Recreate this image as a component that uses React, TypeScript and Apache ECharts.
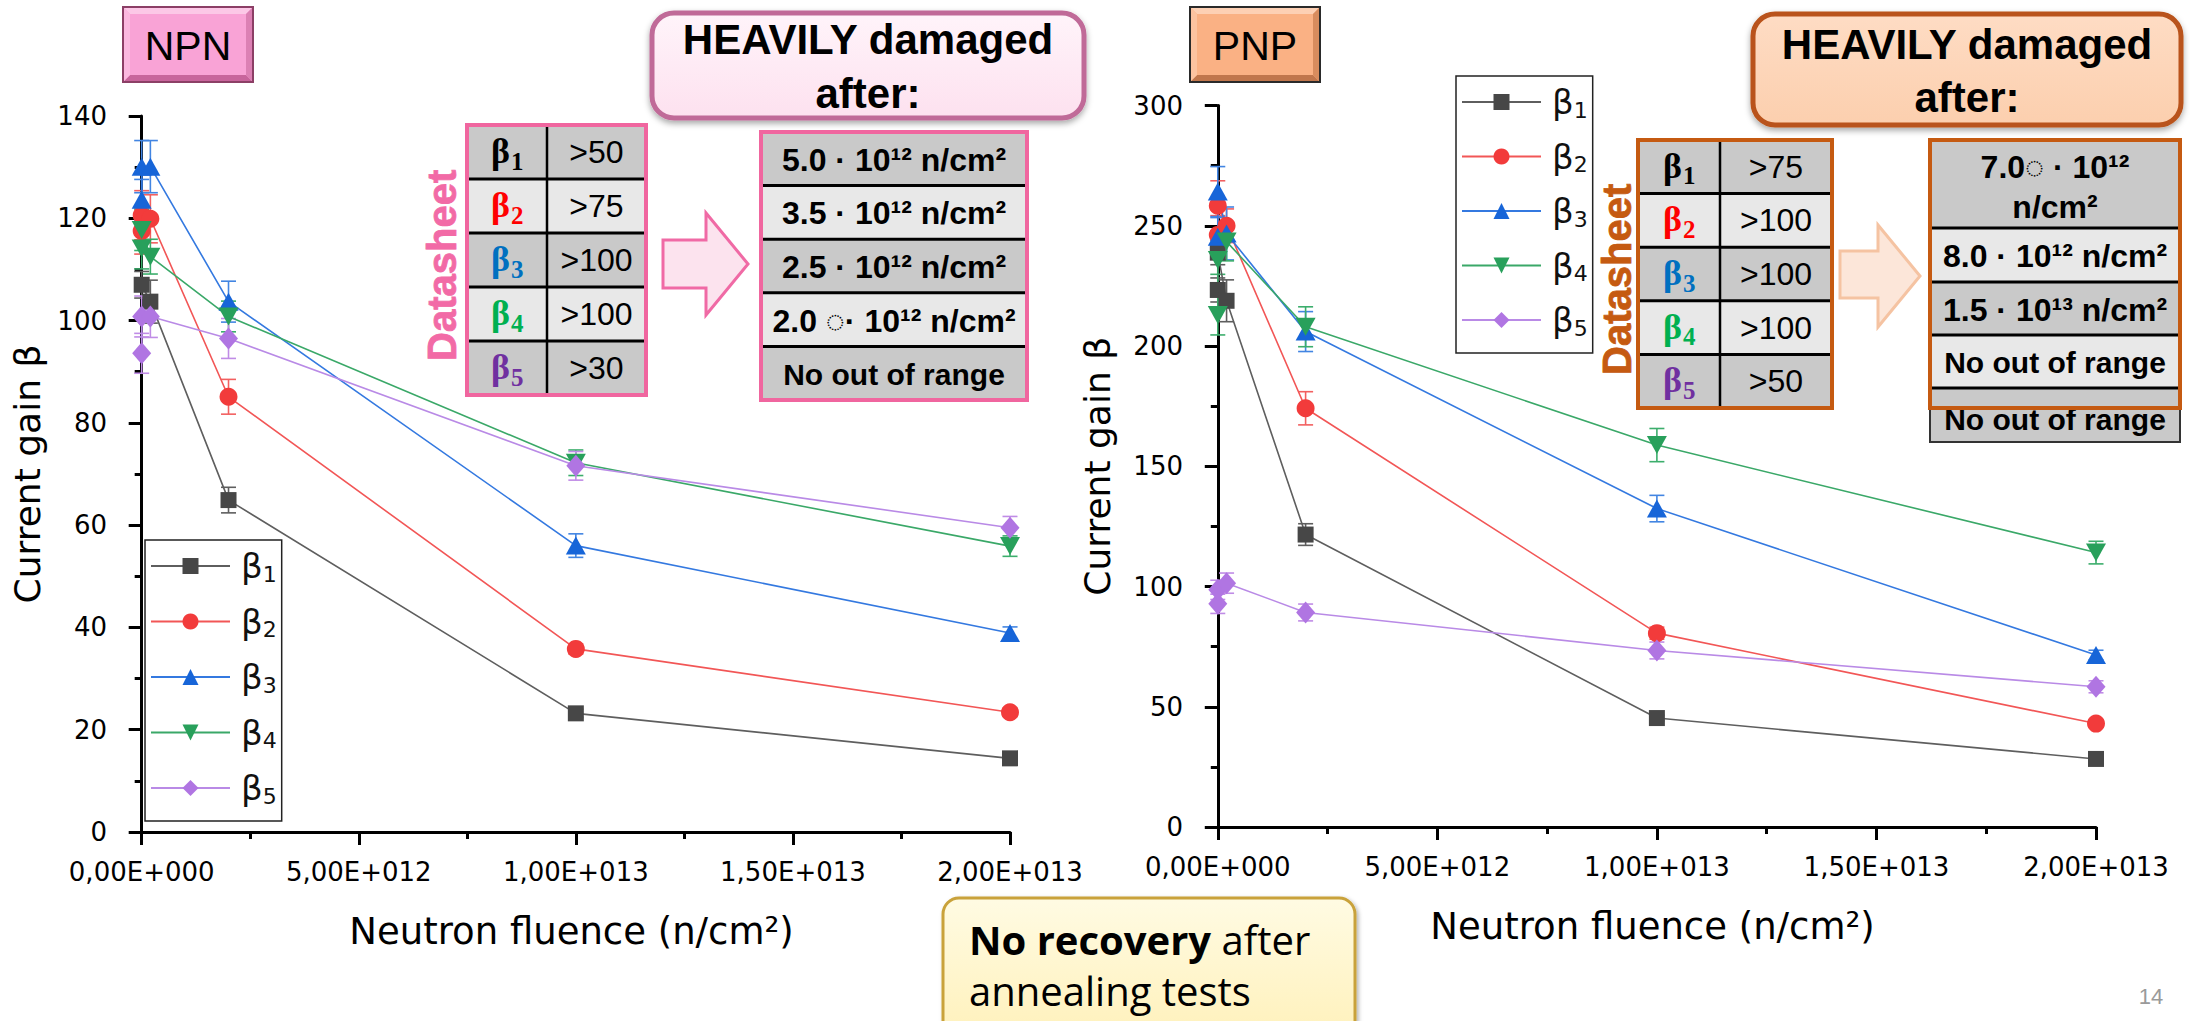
import { useEffect, useRef } from 'react';
import * as echarts from 'echarts';

// Each point: [neutron fluence (n/cm²), current gain β, error bar half-height]
type Pt = [number, number, number];

// NPN transistor, gains beta1..beta5
const npnB1: Pt[] = [[0, 107.0, 2.6], [2e11, 103.7, 4.2], [2e12, 64.9, 2.5], [1e13, 23.2, 0.8], [2e13, 14.4, 0.6]];
const npnB2: Pt[] = [[0, 117.5, 4.5], [0, 120.6, 4.8], [2e11, 119.9, 4.7], [2e12, 85.1, 3.4], [1e13, 35.8, 1.0], [2e13, 23.4, 0.8]];
const npnB3: Pt[] = [[0, 123.6, 4.0], [0, 130.1, 5.1], [2e11, 130.1, 5.1], [2e12, 103.7, 4.0], [1e13, 56.0, 2.3], [2e13, 38.9, 1.2]];
const npnB4: Pt[] = [[0, 114.1, 4.0], [0, 117.7, 4.0], [2e11, 112.5, 3.4], [2e12, 100.8, 3.0], [1e13, 72.2, 2.5], [2e13, 55.9, 2.0]];
const npnB5: Pt[] = [[0, 93.6, 3.9], [0, 100.8, 4.0], [2e11, 100.8, 4.1], [2e12, 96.5, 3.9], [1e13, 71.6, 2.8], [2e13, 59.5, 2.2]];

// PNP transistor, gains beta1..beta5
const pnpB1: Pt[] = [[0, 223.3, 5.0], [0, 238.8, 5.0], [2e11, 218.8, 8.7], [2e12, 121.6, 4.5], [1e13, 45.3, 1.2], [2e13, 28.3, 1.0]];
const pnpB2: Pt[] = [[0, 246.2, 8.0], [0, 258.3, 10.4], [2e11, 250.0, 7.0], [2e12, 174.1, 6.9], [1e13, 80.6, 2.5], [2e13, 43.0, 1.2]];
const pnpB3: Pt[] = [[0, 245.4, 8.0], [0, 264.2, 10.4], [2e11, 246.8, 11.0], [2e12, 206.0, 8.3], [1e13, 132.4, 5.5], [2e13, 71.5, 2.0]];
const pnpB4: Pt[] = [[0, 212.9, 8.3], [0, 235.8, 6.0], [2e11, 243.4, 8.0], [2e12, 208.0, 8.3], [1e13, 158.8, 6.9], [2e13, 114.1, 4.7]];
const pnpB5: Pt[] = [[0, 92.8, 4.0], [0, 98.6, 4.0], [2e11, 101.4, 4.2], [2e12, 89.2, 3.5], [1e13, 73.4, 3.5], [2e13, 58.3, 2.5]];

const seriesNames = ['β1', 'β2', 'β3', 'β4', 'β5'];
const majorFluence = [0, 5e12, 1e13, 1.5e13, 2e13];
const minorFluence = [2.5e12, 7.5e12, 1.25e13, 1.75e13];

// Datasheet minimum gains and fluence at which each gain falls out of range
const npnDatasheet = ['>50', '>75', '>100', '>100', '>30'];
const pnpDatasheet = ['>75', '>100', '>100', '>100', '>50'];
const npnDamage = ['5.0 · 10¹² n/cm²', '3.5 · 10¹² n/cm²', '2.5 · 10¹² n/cm²', '2.0 ◌· 10¹² n/cm²', 'No out of range'];
const pnpDamage = ['8.0 · 10¹² n/cm²', '1.5 · 10¹³ n/cm²', 'No out of range', 'No out of range'];

const CHART_FONT = '"DejaVu Sans", sans-serif';
const SLIDE_FONT = '"Liberation Sans", Arial, sans-serif';

const styles = [
  { symbol: 'rect', size: 16 as number | number[], marker: '#474747', line: '#5e5e5e', err: '#5e5e5e' },
  { symbol: 'circle', size: 18, marker: '#f23b3b', line: '#f25656', err: '#f26060' },
  { symbol: 'triangle', size: [20, 18], marker: '#1765d8', line: '#3479e0', err: '#4285e2' },
  { symbol: 'path://M0,0L2,0L1,2Z', size: [20, 18], marker: '#28a05b', line: '#3aa868', err: '#3cae6c' },
  { symbol: 'diamond', size: [19, 22], marker: '#b075e2', line: '#b98ae6', err: '#c08ce6' },
];
const betaColors = ['#000000', '#ff0000', '#0070c0', '#00b050', '#7030a0'];

const sci = (v: number): string => {
  if (v === 0) return '0,00E+000';
  const e = Math.floor(Math.log10(v) + 1e-9);
  const m = v / Math.pow(10, e);
  return m.toFixed(2).replace('.', ',') + 'E+' + String(e).padStart(3, '0');
};

function lineSeries(pts: Pt[], i: number, xi: number, yi: number) {
  const s = styles[i];
  return {
    type: 'line', name: seriesNames[i], xAxisIndex: xi, yAxisIndex: yi,
    data: pts.map((p) => [p[0], p[1]]),
    symbol: s.symbol, symbolSize: s.size, showAllSymbol: true,
    itemStyle: { color: s.marker }, lineStyle: { color: s.line, width: 1.6 },
    z: 3, clip: false,
  };
}

function errorSeries(pts: Pt[], i: number, xi: number, yi: number) {
  const color = styles[i].err;
  return {
    type: 'custom', xAxisIndex: xi, yAxisIndex: yi, silent: true, z: 2, clip: false,
    encode: { x: 0, y: [1, 2] },
    data: pts.map((p) => [p[0], p[1] - p[2], p[1] + p[2]]),
    renderItem: (_params: unknown, api: any) => {
      const x = api.value(0);
      const lo = api.coord([x, api.value(1)]);
      const hi = api.coord([x, api.value(2)]);
      const c = 7.5;
      const st = { stroke: color, lineWidth: 1.6 };
      return {
        type: 'group',
        children: [
          { type: 'line', shape: { x1: lo[0], y1: lo[1], x2: hi[0], y2: hi[1] }, style: st },
          { type: 'line', shape: { x1: hi[0] - c, y1: hi[1], x2: hi[0] + c, y2: hi[1] }, style: st },
          { type: 'line', shape: { x1: lo[0] - c, y1: lo[1], x2: lo[0] + c, y2: lo[1] }, style: st },
        ],
      };
    },
  };
}

function xAxes(gridIndex: number) {
  return [
    {
      type: 'value', gridIndex, min: -2e11, max: 2e13, position: 'bottom',
      axisLine: { show: true, onZero: false, lineStyle: { color: '#000', width: 3 } },
      axisTick: { show: true, customValues: majorFluence, length: 13, lineStyle: { color: '#000', width: 3 } },
      axisLabel: { show: true, customValues: majorFluence, formatter: sci, margin: 27, color: '#000', fontSize: 26, fontFamily: CHART_FONT },
      splitLine: { show: false },
      name: 'Neutron fluence (n/cm²)', nameLocation: 'middle', nameGap: 81,
      nameTextStyle: { fontSize: 37, fontFamily: CHART_FONT, color: '#000' },
    },
    {
      type: 'value', gridIndex, min: -2e11, max: 2e13, position: 'bottom',
      axisLine: { show: false },
      axisTick: { show: true, customValues: minorFluence, length: 7, lineStyle: { color: '#000', width: 3 } },
      axisLabel: { show: false }, splitLine: { show: false },
    },
  ];
}

function yAxis(gridIndex: number, max: number, step: number, gap: number) {
  return {
    type: 'value', gridIndex, min: 0, max, interval: step,
    axisLine: { show: true, lineStyle: { color: '#000', width: 3 } },
    axisTick: { show: true, length: 13, lineStyle: { color: '#000', width: 3 } },
    minorTick: { show: true, splitNumber: 2, length: 7, lineStyle: { color: '#000', width: 3 } },
    axisLabel: { margin: 26, fontSize: 26, fontFamily: CHART_FONT, color: '#000' },
    splitLine: { show: false },
    name: 'Current gain β', nameLocation: 'middle', nameGap: gap, nameRotate: 90,
    nameTextStyle: { fontSize: 36, fontFamily: CHART_FONT, color: '#000' },
  };
}

function legend(left: number, top: number, gap: number) {
  return {
    data: seriesNames, orient: 'vertical', left, top,
    itemWidth: 79, itemHeight: 20, itemGap: gap,
    padding: [9, 5, 14, 5],
    borderColor: '#222', borderWidth: 1.5, backgroundColor: '#fff',
    formatter: (n: string) => `{b|β}{s|${n.slice(1)}}`,
    textStyle: {
      color: '#111', fontFamily: CHART_FONT, fontSize: 34,
      rich: {
        b: { fontSize: 34, lineHeight: 38, fontFamily: CHART_FONT, padding: [0, 0, 0, 6] },
        s: { fontSize: 22, lineHeight: 22, fontFamily: CHART_FONT, verticalAlign: 'bottom' },
      },
    },
  };
}

// ---------- slide decorations ----------
const rect = (x: number, y: number, w: number, h: number, style: object, r = 0) =>
  ({ type: 'rect', shape: { x, y, width: w, height: h, r }, style });
const line = (x1: number, y1: number, x2: number, y2: number, stroke: string, lineWidth: number) =>
  ({ type: 'line', shape: { x1, y1, x2, y2 }, style: { stroke, lineWidth } });
const poly = (points: number[][], style: object) => ({ type: 'polygon', shape: { points }, style });
const text = (x: number, y: number, t: string, font: string, fill: string, extra: object = {}, rotation = 0) => ({
  type: 'text', x, y, rotation,
  style: { text: t, font, fill, align: 'center', verticalAlign: 'middle', textAlign: 'center', textVerticalAlign: 'middle', ...extra },
});

function bevelBox(x: number, y: number, w: number, h: number, b: number, c: { mid: string; top: string; left: string; bottom: string; right: string; border: string }) {
  return [
    rect(x, y, w, h, { fill: c.mid }),
    poly([[x, y], [x + w, y], [x + w - b, y + b], [x + b, y + b]], { fill: c.top }),
    poly([[x, y + h], [x + w, y + h], [x + w - b, y + h - b], [x + b, y + h - b]], { fill: c.bottom }),
    poly([[x, y], [x + b, y + b], [x + b, y + h - b], [x, y + h]], { fill: c.left }),
    poly([[x + w, y], [x + w - b, y + b], [x + w - b, y + h - b], [x + w, y + h]], { fill: c.right }),
    rect(x, y, w, h, { fill: 'none', stroke: c.border, lineWidth: 2 }),
  ];
}

function datasheetTable(x0: number, y0: number, w: number, colX: number, rowH: number, border: string, values: string[], labelX: number, labelColor: string) {
  const els: object[] = [];
  for (let i = 0; i < 5; i++) els.push(rect(x0, y0 + i * rowH, w, rowH, { fill: i % 2 ? '#e8e8e8' : '#c9c9c9' }));
  for (let i = 1; i < 5; i++) els.push(line(x0, y0 + i * rowH, x0 + w, y0 + i * rowH, '#000', 3));
  els.push(line(colX, y0, colX, y0 + 5 * rowH, '#000', 2.5));
  const c1 = (x0 + colX) / 2;
  const c2 = (colX + x0 + w) / 2;
  for (let i = 0; i < 5; i++) {
    const cy = y0 + i * rowH + rowH / 2;
    els.push(text(c1 + 3, cy - 1, 'β', 'bold 36px "Liberation Serif", serif', betaColors[i], { align: 'right', textAlign: 'right' }));
    els.push(text(c1 + 4, cy + 9, String(i + 1), 'bold 25px "Liberation Serif", serif', betaColors[i], { align: 'left', textAlign: 'left' }));
    els.push(text(c2, cy, values[i], '32px ' + SLIDE_FONT, '#000'));
  }
  els.push(rect(x0, y0, w, 5 * rowH, { fill: 'none', stroke: border, lineWidth: 4 }));
  els.push(text(labelX, y0 + 2.6 * rowH, 'Datasheet', 'bold 40px ' + SLIDE_FONT, labelColor, { stroke: labelColor, lineWidth: 0.8 }, Math.PI / 2));
  return els;
}

function arrow(x0: number, sy0: number, sy1: number, hx: number, hy0: number, hy1: number, tip: number, fill: string, stroke: string) {
  const ty = (hy0 + hy1) / 2;
  return poly([[x0, sy0], [hx, sy0], [hx, hy0], [tip, ty], [hx, hy1], [hx, sy1], [x0, sy1]], { fill, stroke, lineWidth: 3 });
}

function buildGraphic() {
  const g: object[] = [];
  // Device type badges
  g.push(...bevelBox(123, 7, 130, 75, 7, { mid: '#f9a3d6', top: '#fcc8e7', left: '#fbb8df', bottom: '#c8659c', right: '#dc80b4', border: '#8c3f66' }));
  g.push(text(188, 46, 'NPN', '41px ' + SLIDE_FONT, '#000'));
  g.push(...bevelBox(1190, 7, 130, 75, 7, { mid: '#fab184', top: '#fdd0b4', left: '#fcc3a0', bottom: '#c0764c', right: '#d88c5e', border: '#2a2a2a' }));
  g.push(text(1255, 46, 'PNP', '41px ' + SLIDE_FONT, '#000'));

  // "HEAVILY damaged after:" headers
  g.push(rect(652, 13, 432, 105, {
    fill: new echarts.graphic.LinearGradient(0, 0, 0, 1, [{ offset: 0, color: '#fff4fa' }, { offset: 1, color: '#fde1ef' }]),
    stroke: '#c06a98', lineWidth: 5, shadowBlur: 6, shadowOffsetY: 3, shadowColor: 'rgba(0,0,0,0.35)',
  }, 22));
  g.push(text(868, 39, 'HEAVILY damaged', 'bold 42px ' + SLIDE_FONT, '#000'));
  g.push(text(868, 93, 'after:', 'bold 42px ' + SLIDE_FONT, '#000'));
  g.push(rect(1753, 14, 428, 111, {
    fill: new echarts.graphic.LinearGradient(0, 0, 0, 1, [{ offset: 0, color: '#fedcc4' }, { offset: 1, color: '#fccfae' }]),
    stroke: '#b9531a', lineWidth: 5, shadowBlur: 6, shadowOffsetY: 3, shadowColor: 'rgba(0,0,0,0.35)',
  }, 22));
  g.push(text(1967, 44, 'HEAVILY damaged', 'bold 42px ' + SLIDE_FONT, '#000'));
  g.push(text(1967, 97, 'after:', 'bold 42px ' + SLIDE_FONT, '#000'));

  // Datasheet tables
  g.push(...datasheetTable(467, 125, 179, 547, 54, '#f0669f', npnDatasheet, 442, '#f26aa6'));
  g.push(...datasheetTable(1638, 140, 194, 1720, 53.6, '#c55a11', pnpDatasheet, 1617, '#c55a11'));

  // Arrows
  g.push(arrow(663, 240, 288, 706, 213, 315, 748, '#fce3ee', '#f06aa5'));
  g.push(arrow(1840, 251, 298, 1878, 225, 327, 1920, '#fce6d9', '#f5c3a2'));

  // NPN damage table
  {
    const x0 = 761, y0 = 132, w = 266, rh = 53.6;
    for (let i = 0; i < 5; i++) g.push(rect(x0, y0 + i * rh, w, rh, { fill: i % 2 ? '#e8e8e8' : '#c9c9c9' }));
    for (let i = 1; i < 5; i++) g.push(line(x0, y0 + i * rh, x0 + w, y0 + i * rh, '#000', 3));
    for (let i = 0; i < 5; i++) g.push(text(x0 + w / 2, y0 + i * rh + rh / 2 + 1, npnDamage[i], (i < 4 ? 'bold 32px ' : 'bold 30px ') + SLIDE_FONT, '#000'));
    g.push(rect(x0, y0, w, 5 * rh, { fill: 'none', stroke: '#f0669f', lineWidth: 4 }));
  }

  // PNP damage table (first row wraps onto two lines)
  {
    const x0 = 1930, w = 250;
    const rows = [140, 228, 282, 335, 388, 442];
    for (let i = 0; i < 5; i++) g.push(rect(x0, rows[i], w, rows[i + 1] - rows[i], { fill: i % 2 ? '#e8e8e8' : '#c9c9c9' }));
    for (let i = 1; i < 5; i++) g.push(line(x0, rows[i], x0 + w, rows[i], '#000', 3));
    g.push(text(x0 + w / 2, 167, '7.0◌ · 10¹²', 'bold 32px ' + SLIDE_FONT, '#000'));
    g.push(text(x0 + w / 2, 207, 'n/cm²', 'bold 32px ' + SLIDE_FONT, '#000'));
    for (let i = 0; i < 4; i++) {
      const cy = (rows[i + 1] + rows[i + 2]) / 2 + (i === 3 ? 4 : 1);
      g.push(text(x0 + w / 2, cy, pnpDamage[i], (i < 2 ? 'bold 32px ' : 'bold 30px ') + SLIDE_FONT, '#000'));
    }
    g.push(rect(x0, 140, w, 302, { fill: 'none', stroke: '#333', lineWidth: 2 }));
    g.push(rect(x0, 140, w, 268, { fill: 'none', stroke: '#c55a11', lineWidth: 4 }));
  }

  // Annealing note
  g.push(rect(943, 898, 412, 140, {
    fill: new echarts.graphic.LinearGradient(0, 0, 0, 1, [{ offset: 0, color: '#fffbe3' }, { offset: 1, color: '#fff1bb' }]),
    stroke: '#c9a23a', lineWidth: 3, shadowBlur: 4, shadowOffsetX: 2, shadowOffsetY: 2, shadowColor: 'rgba(0,0,0,0.3)',
  }, 16));
  g.push({
    type: 'text', x: 969, y: 939,
    style: {
      text: '{b|No recovery}{n| after}', fill: '#000',
      align: 'left', verticalAlign: 'middle', textAlign: 'left', textVerticalAlign: 'middle',
      rich: {
        b: { fontWeight: 'bold', fontSize: 40, lineHeight: 44, fontFamily: '"Open Sans", sans-serif' },
        n: { fontSize: 40, lineHeight: 44, fontFamily: '"Open Sans", sans-serif' },
      },
    },
  });
  g.push(text(969, 990, 'annealing tests', '40px "Open Sans", sans-serif', '#000', { align: 'left', textAlign: 'left', lineHeight: 44 }));

  // Slide number
  g.push(text(2151, 996, '14', '22px ' + SLIDE_FONT, '#9a9a9a'));
  return g;
}

function buildOption() {
  const npn = [npnB1, npnB2, npnB3, npnB4, npnB5];
  const pnp = [pnpB1, pnpB2, pnpB3, pnpB4, pnpB5];
  const series: object[] = [];
  npn.forEach((pts, i) => series.push(errorSeries(pts, i, 0, 0)));
  pnp.forEach((pts, i) => series.push(errorSeries(pts, i, 2, 1)));
  npn.forEach((pts, i) => series.push(lineSeries(pts, i, 0, 0)));
  pnp.forEach((pts, i) => series.push(lineSeries(pts, i, 2, 1)));
  return {
    animation: false,
    backgroundColor: '#ffffff',
    textStyle: { fontFamily: CHART_FONT },
    grid: [
      { left: 133, top: 116, width: 877, height: 716, containLabel: false },
      { left: 1209, top: 105.5, width: 887, height: 721.5, containLabel: false },
    ],
    xAxis: [...xAxes(0), ...xAxes(1)],
    yAxis: [yAxis(0, 140, 20, 88), yAxis(1, 300, 50, 94)],
    legend: [legend(145, 540, 19.5), legend(1456, 76, 18.5)],
    series,
    graphic: { elements: buildGraphic() },
  };
}

export default function App() {
  const ref = useRef<HTMLDivElement>(null);
  useEffect(() => {
    if (!ref.current) return;
    const chart = echarts.init(ref.current, null, { renderer: 'svg' });
    chart.setOption(buildOption() as any);
    return () => chart.dispose();
  }, []);
  return (
    <div
      ref={ref}
      style={{ position: 'absolute', left: 0, top: 0, width: 2190, height: 1021, background: '#fff' }}
    />
  );
}
